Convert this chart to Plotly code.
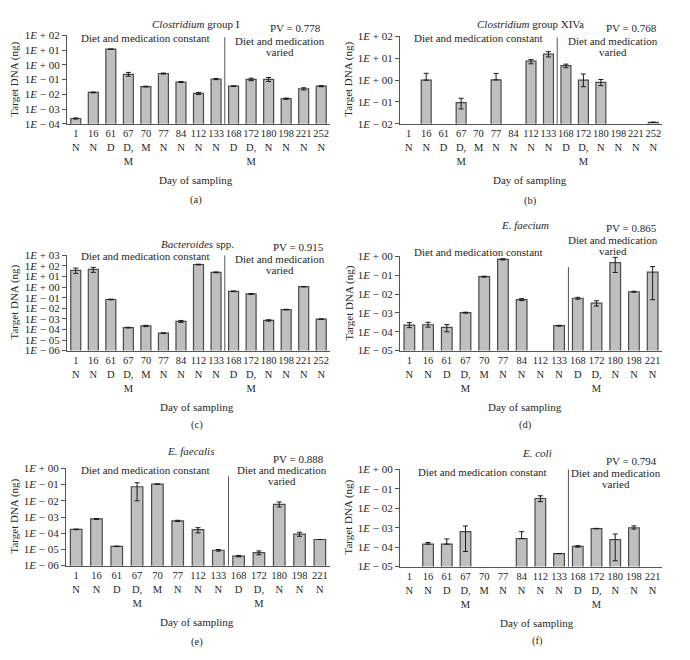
import plotly.graph_objects as go

W, H = 690, 660
FONT = "Liberation Serif"
TXT = "#262626"
BAR_FILL = "#bfbfbf"
BAR_LINE = "#4a4a4a"

# ---------------- data ----------------
days15 = [1, 16, 61, 67, 70, 77, 84, 112, 133, 168, 172, 180, 198, 221, 252]
codes15 = ["N", "N", "D", "D, M", "M", "N", "N", "N", "N", "D", "D, M", "N", "N", "N", "N"]
days14 = [1, 16, 61, 67, 70, 77, 84, 112, 133, 168, 172, 180, 198, 221]
codes14 = ["N", "N", "D", "D, M", "M", "N", "N", "N", "N", "D", "D, M", "N", "N", "N"]
days13 = [1, 16, 61, 67, 70, 77, 112, 133, 168, 172, 180, 198, 221]
codes13 = ["N", "N", "D", "D, M", "M", "N", "N", "N", "D", "D, M", "N", "N", "N"]

# (a) Clostridium group I
a_vals = [2.3e-4, 1.35e-2, 11.7, 0.23, 0.034, 0.26, 0.069, 0.0117, 0.11, 0.036, 0.105, 0.105, 0.0051, 0.024, 0.036]
a_err_p = [2e-5, 8e-4, 0, 0.08, 0.002, 0.02, 0.005, 0.002, 0.01, 0.002, 0.02, 0.035, 5e-4, 0.004, 0.003]
a_err_m = [2e-5, 8e-4, 0, 0.06, 0.002, 0.02, 0.005, 0.002, 0.01, 0.002, 0.02, 0.03, 5e-4, 0.004, 0.003]

# (b) Clostridium group XIVa
b_vals = [None, 1.0, None, 0.093, None, 1.03, None, 7.4, 15.5, 4.6, 1.0, 0.79, None, None, 0.0117]
b_err_p = [None, 1.05, None, 0.055, None, 1.0, None, 1.3, 4.5, 0.8, 0.9, 0.28, None, None, 0]
b_err_m = [None, 0, None, 0.045, None, 0, None, 1.8, 4.0, 0.9, 0.5, 0.23, None, None, 0]

# (c) Bacteroides spp.
c_vals = [38, 47, 0.068, 1.5e-4, 2.15e-4, 4.5e-5, 5.9e-4, 137, 25, 0.40, 0.23, 7.2e-4, 7.6e-3, 1.1, 9.5e-4]
c_err_p = [25, 27, 0.005, 1e-5, 3e-5, 3e-6, 1.2e-4, 10, 2, 0.03, 0.02, 1e-4, 4e-4, 0.05, 4e-5]
c_err_m = [18, 22, 0.005, 1e-5, 3e-5, 3e-6, 1.2e-4, 10, 2, 0.03, 0.02, 1e-4, 4e-4, 0.05, 4e-5]

# (d) E. faecium
d_vals = [2.25e-4, 2.35e-4, 1.7e-4, 1.03e-3, 0.084, 0.70, 5.1e-3, None, 2.1e-4, 6.0e-3, 3.3e-3, 0.47, 0.0133, 0.147]
d_err_p = [8e-5, 8e-5, 7e-5, 6e-5, 0.005, 0.05, 6e-4, None, 1e-5, 7e-4, 1.1e-3, 0.42, 8e-4, 0.14]
d_err_m = [6e-5, 6e-5, 7e-5, 6e-5, 0.005, 0.05, 6e-4, None, 1e-5, 7e-4, 1.0e-3, 0.33, 8e-4, 0.142]

# (e) E. faecalis
e_vals = [1.73e-4, 7.6e-4, 1.55e-5, 0.074, 0.108, 5.8e-4, 1.65e-4, 8.9e-6, 3.9e-6, 6.4e-6, 6.1e-3, 8.7e-5, 4.1e-5]
e_err_p = [8e-6, 5e-5, 5e-7, 0.056, 0.003, 5e-5, 5.5e-5, 1e-6, 4e-7, 1.7e-6, 2.4e-3, 2.8e-5, 0]
e_err_m = [8e-6, 5e-5, 5e-7, 0.064, 0.003, 5e-5, 6e-5, 1e-6, 4e-7, 1.7e-6, 1.9e-3, 2.2e-5, 0]

# (f) E. coli
f_vals = [None, 1.44e-4, 1.44e-4, 6.3e-4, None, None, 2.77e-4, 0.032, 4.7e-5, 1.1e-4, 9.1e-4, 2.46e-4, 1.0e-3, None]
f_err_p = [None, 3e-5, 1.2e-4, 6e-4, None, None, 3.5e-4, 0.012, 0, 1e-5, 2e-5, 2.3e-4, 2.4e-4, None]
f_err_m = [None, 0, 0, 5.7e-4, None, None, 0, 0.010, 0, 1e-5, 2e-5, 2.26e-4, 1.5e-4, None]

titles = ["<i>Clostridium</i> group I", "<i>Clostridium</i> group XIVa", "<i>Bacteroides</i> spp.",
          "<i>E. faecium</i>", "<i>E. faecalis</i>", "<i>E. coli</i>"]
pvs = ["PV = 0.778", "PV = 0.768", "PV = 0.915", "PV = 0.865", "PV = 0.888", "PV = 0.794"]
letters = ["(a)", "(b)", "(c)", "(d)", "(e)", "(f)"]
yexp_ranges = [(-4, 2), (-2, 2), (-6, 3), (-5, 0), (-6, 0), (-5, 0)]
split_after = ["133", "133", "133", "133", "133", "133"]

series = [
    (days15, codes15, a_vals, a_err_p, a_err_m),
    (days15, codes15, b_vals, b_err_p, b_err_m),
    (days15, codes15, c_vals, c_err_p, c_err_m),
    (days14, codes14, d_vals, d_err_p, d_err_m),
    (days13, codes13, e_vals, e_err_p, e_err_m),
    (days14, codes14, f_vals, f_err_p, f_err_m),
]

# ---------------- layout geometry (pixels) ----------------
boxes = [  # x0, x1, ytop, ybottom
    (67, 330, 30, 120),
    (400, 662, 31, 120),
    (67, 330, 254, 351),
    (400, 662, 255, 351),
    (66, 330, 471, 570),
    (400, 662, 472, 571),
]
ann_pos = [  # title, pv(right x, y), constant, varied(center x, y1, y2), xtitle, letter, ytitle
    dict(t=(196, 18), pv=(322, 22), c=(145, 33), v=(280, 36, 47), xt=(196, 177), l=(196, 198), yt=(15, 75)),
    dict(t=(530, 18), pv=(658, 22), c=(478, 33), v=(613, 36, 47), xt=(530, 177), l=(530, 199), yt=(349, 75)),
    dict(t=(197, 242), pv=(325, 245), c=(145, 255), v=(280, 258, 269), xt=(197, 408), l=(197, 427), yt=(15, 302)),
    dict(t=(525, 223), pv=(658, 226), c=(478, 251), v=(613, 238, 250), xt=(525, 408), l=(525, 427), yt=(349, 303)),
    dict(t=(190, 453), pv=(325, 461), c=(145, 473), v=(282, 473, 484), xt=(197, 627), l=(197, 648), yt=(15, 520)),
    dict(t=(537, 455), pv=(658, 463), c=(483, 475), v=(616, 476, 487), xt=(537, 628), l=(537, 647), yt=(349, 521)),
]
sep_top = [0.98, 0.99, 1.0, 0.885, 0.92, 1.0]


def px(x):
    return x / W


def py(y):
    return 1 - y / H


def etick(k):
    sign = "+" if k >= 0 else "\u2212"
    return "1<i>E</i> %s %02d" % (sign, abs(k))


fig = go.Figure()
annotations = []
shapes = []

for i, ((days, codes, vals, ep, em), box, ap) in enumerate(zip(series, boxes, ann_pos)):
    n = i + 1
    xa = "x" if n == 1 else "x%d" % n
    ya = "y" if n == 1 else "y%d" % n
    labels = ["%d<br>%s" % (d, c.replace(", ", ",<br>")) for d, c in zip(days, codes)]
    fig.add_trace(go.Bar(
        x=labels, y=vals, xaxis=xa, yaxis=ya,
        marker=dict(color=BAR_FILL, line=dict(color=BAR_LINE, width=1.2)),
        error_y=dict(type="data", symmetric=False, array=ep, arrayminus=em,
                     color="#1a1a1a", thickness=1, width=2.5),
        showlegend=False, hoverinfo="x+y",
    ))
    x0, x1, yt, yb = box
    lo, hi = yexp_ranges[i]
    axx = dict(domain=[px(x0), px(x1)], type="category", anchor=ya,
               showline=True, linecolor="#555555", linewidth=1, ticks="",
               tickfont=dict(family=FONT, size=10.5, color=TXT), tickangle=0,
               range=[-0.5, len(days) - 0.5], fixedrange=True)
    axy = dict(domain=[py(yb), py(yt)], type="log", anchor=xa, range=[lo, hi],
               tickvals=[10.0 ** k for k in range(lo, hi + 1)],
               ticktext=[etick(k) for k in range(lo, hi + 1)],
               showline=True, linecolor="#555555", linewidth=1,
               ticks="outside", ticklen=4, tickcolor="#555555", showgrid=False,
               tickfont=dict(family=FONT, size=11, color=TXT), zeroline=False,
               fixedrange=True)
    fig.update_layout(**{("xaxis" if n == 1 else "xaxis%d" % n): axx,
                         ("yaxis" if n == 1 else "yaxis%d" % n): axy})

    # separator between periods
    split_idx = [str(d) for d in days].index(split_after[i]) + 0.5
    shapes.append(dict(type="line", xref=xa, yref=ya + " domain", x0=split_idx, x1=split_idx,
                       y0=0, y1=sep_top[i], line=dict(color="#555555", width=1)))

    def ann(text, xy, xanchor="center", size=11, angle=0):
        annotations.append(dict(text=text, x=px(xy[0]), y=py(xy[1]), xref="paper", yref="paper",
                                xanchor=xanchor, yanchor="middle", showarrow=False,
                                textangle=angle, borderpad=0,
                                font=dict(family=FONT, size=size, color=TXT)))

    ann(titles[i], ap["t"])
    ann(pvs[i], ap["pv"], xanchor="right")
    ann("Diet and medication constant", ap["c"])
    ann("Diet and medication", (ap["v"][0], ap["v"][1]))
    ann("varied", (ap["v"][0], ap["v"][2]))
    ann("Day of sampling", ap["xt"])
    ann(letters[i], ap["l"], size=10.5)
    ann("Target DNA (ng)", ap["yt"], angle=-90)

fig.update_layout(
    width=W, height=H, margin=dict(l=0, r=0, t=0, b=0),
    paper_bgcolor="white", plot_bgcolor="white",
    bargap=0.43, annotations=annotations, shapes=shapes,
    font=dict(family=FONT, color=TXT),
)

fig.write_html("out.html", config={"displayModeBar": False},
               post_script="document.body.style.margin='0';document.body.style.overflow='hidden';")
